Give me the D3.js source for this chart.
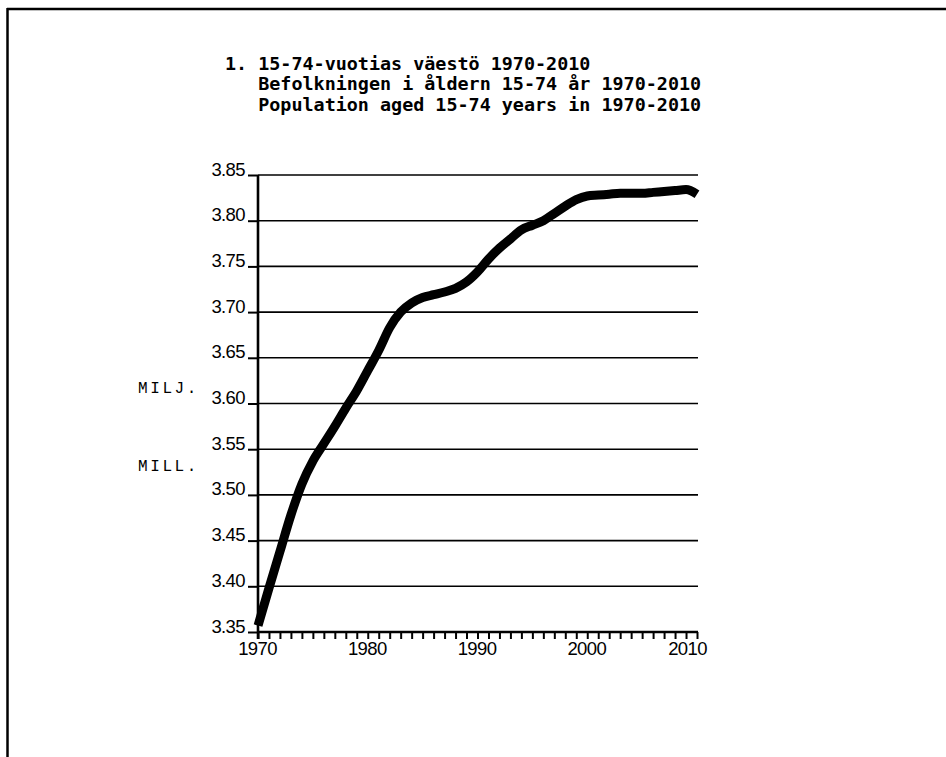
<!DOCTYPE html>
<html>
<head>
<meta charset="utf-8">
<script src="https://cdn.jsdelivr.net/npm/d3@7"></script>
<style>
  html, body { margin: 0; padding: 0; background: #fff; }
  svg { display: block; }
</style>
</head>
<body>
<script>
// ---- Data ----
const years = [1970,1971,1972,1973,1974,1975,1976,1977,1978,1979,
               1980,1981,1982,1983,1984,1985,1986,1987,1988,1989,
               1990,1991,1992,1993,1994,1995,1996,1997,1998,1999,
               2000,2001,2002,2003,2004,2005,2006,2007,2008,2009,2010];
const population = [3.357,3.398,3.438,3.478,3.512,3.537,3.556,3.575,3.595,3.614,
                    3.636,3.658,3.683,3.700,3.710,3.716,3.719,3.722,3.726,3.733,
                    3.744,3.758,3.770,3.780,3.790,3.795,3.800,3.808,3.816,3.823,
                    3.827,3.828,3.829,3.830,3.830,3.830,3.831,3.832,3.833,3.834,3.829];
const yTicks = [3.35,3.40,3.45,3.50,3.55,3.60,3.65,3.70,3.75,3.80,3.85];
const xLabelYears = [1970,1980,1990,2000,2010];
const titleLines = [
  "1. 15-74-vuotias väestö 1970-2010",
  "   Befolkningen i åldern 15-74 år 1970-2010",
  "   Population aged 15-74 years in 1970-2010"
];
const unitLabels = ["MILJ.", "MILL."];

// ---- Layout ----
const W = 946, H = 757;
const svg = d3.select("body").append("svg").attr("width", W).attr("height", H);

// frame
svg.append("line").attr("x1", 7).attr("x2", W).attr("y1", 9).attr("y2", 9)
   .attr("stroke", "#000").attr("stroke-width", 2.5);
svg.append("line").attr("x1", 7.5).attr("x2", 7.5).attr("y1", 8).attr("y2", H)
   .attr("stroke", "#000").attr("stroke-width", 2.5);

const x = d3.scaleLinear().domain([1970, 2010]).range([258, 697]);
const y = d3.scaleLinear().domain([3.35, 3.85]).range([632, 175]);

// title
const title = svg.append("g");
titleLines.forEach((t, i) => {
  title.append("text")
    .attr("x", 225).attr("y", 69.5 + i * 20.7)
    .attr("font-family", "DejaVu Sans Mono")
    .attr("font-weight", "bold")
    .attr("font-size", 18.4)
    .style("white-space", "pre")
    .attr("fill", "#000")
    .text(t);
});

// gridlines
svg.append("g").selectAll("line").data(yTicks.filter(v => v > 3.35)).join("line")
  .attr("x1", x(1970)).attr("x2", x(2010) + 1)
  .attr("y1", d => y(d)).attr("y2", d => y(d))
  .attr("stroke", "#000").attr("stroke-width", 1.6);

// y axis
const yAxis = d3.axisLeft(y).tickValues(yTicks).tickSize(10).tickPadding(3)
  .tickFormat(d3.format(".2f"));
const gy = svg.append("g").attr("transform", `translate(${x(1970)},0)`).call(yAxis);
gy.select(".domain").remove();
gy.selectAll(".tick line").attr("stroke", "#000").attr("stroke-width", 2);
gy.selectAll(".tick text")
  .attr("font-family", "Liberation Sans, Arial, sans-serif")
  .attr("font-size", 18.5)
  .attr("dy", 0)
  .attr("y", 0)
  .attr("fill", "#000")
  .style("letter-spacing", "-0.6px");
svg.append("line").attr("x1", x(1970)).attr("x2", x(1970))
  .attr("y1", y(3.85)).attr("y2", y(3.35) + 7)
  .attr("stroke", "#000").attr("stroke-width", 2.6);

// x axis: yearly minor ticks
const xAxisMinor = d3.axisBottom(x).tickValues(years).tickSize(7).tickFormat("");
const gxm = svg.append("g").attr("transform", `translate(0,${y(3.35)})`).call(xAxisMinor);
gxm.select(".domain").remove();
gxm.selectAll(".tick line").attr("stroke", "#000").attr("stroke-width", 2);
svg.append("line").attr("x1", x(1970)).attr("x2", x(2010) + 1)
  .attr("y1", y(3.35)).attr("y2", y(3.35))
  .attr("stroke", "#000").attr("stroke-width", 2.6);

// x axis labels
const xAxis = d3.axisBottom(x).tickValues(xLabelYears).tickSize(0).tickPadding(0)
  .tickFormat(d3.format("d"));
const gx = svg.append("g").attr("transform", `translate(0,${y(3.35)})`).call(xAxis);
gx.select(".domain").remove();
gx.selectAll(".tick text")
  .attr("font-family", "Liberation Sans, Arial, sans-serif")
  .attr("font-size", 18.5)
  .attr("y", 23).attr("dy", 0)
  .attr("dx", d => d === 2010 ? -10 : -1)
  .attr("fill", "#000")
  .style("letter-spacing", "-0.6px");

// unit labels
unitLabels.forEach((t, i) => {
  svg.append("text")
    .attr("x", 138).attr("y", 393 + i * 78)
    .attr("font-family", "Liberation Mono, Courier New, monospace")
    .attr("font-size", 16)
    .style("letter-spacing", "2.6px")
    .attr("fill", "#000")
    .text(t);
});

// line
const line = d3.line().x((d, i) => x(years[i])).y(d => y(d)).curve(d3.curveMonotoneX);
svg.append("path").datum(population)
  .attr("d", line)
  .attr("fill", "none")
  .attr("stroke", "#000")
  .attr("stroke-width", 9)
  .attr("stroke-linejoin", "round");
</script>
</body>
</html>
